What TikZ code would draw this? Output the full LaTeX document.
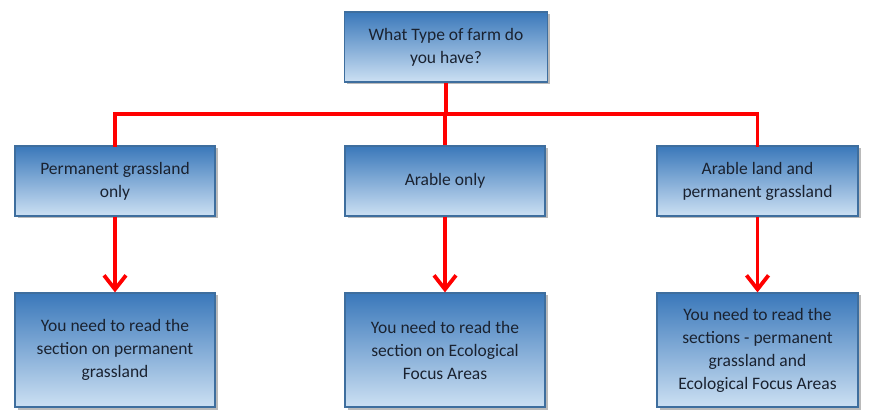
\documentclass[tikz,border=0pt]{standalone}
\usepackage{fontspec}
\setmainfont{Carlito}
\usetikzlibrary{arrows.meta,shadows}
\definecolor{boxtop}{HTML}{3A78BA}
\definecolor{boxbot}{HTML}{CCE0F3}
\definecolor{boxline}{HTML}{3E6E9E}
\definecolor{txt}{HTML}{1A2230}
\definecolor{arrred}{HTML}{FF0000}
\tikzset{
  farmbox/.style={rectangle, draw=boxline, line width=1.2pt, top color=boxtop, bottom color=boxbot,
    minimum width=200pt, minimum height=70pt, align=center, text=txt, inner sep=2pt,
    font=\fontsize{17.5}{23}\selectfont,
    drop shadow={shadow xshift=2.5pt, shadow yshift=-2.5pt, opacity=0.45, fill=black!60}},
  redline/.style={draw=arrred, line width=3.8pt},
  redarrow/.style={redline, -{Straight Barb[length=14pt,width=22pt,line width=3.8pt]}}
}
\begin{document}
\begin{tikzpicture}[x=1pt,y=1pt]
\useasboundingbox (0,0) rectangle (874,417);
\node[farmbox, minimum width=203pt] (top) at (446,370) {What Type of farm do\\you have?};
\node[farmbox] (m1) at (115,236) {Permanent grassland\\only};
\node[farmbox] (m2) at (445,236) {Arable only};
\node[farmbox, minimum width=201pt] (m3) at (757.5,236) {Arable land and\\permanent grassland};
\node[farmbox, minimum height=114pt] (b1) at (115,67) {You need to read the\\section on permanent\\grassland};
\node[farmbox, minimum height=114pt] (b2) at (445,67) {You need to read the\\section on Ecological\\Focus Areas};
\node[farmbox, minimum width=201pt, minimum height=114pt] (b3) at (757.5,67) {You need to read the\\sections - permanent\\grassland and\\Ecological Focus Areas};
\coordinate (bus) at (446,303);
\draw[redline] (top.south) -- (top.south |- bus);
\draw[redline, line cap=rect] (m1.north) -- (m1.north |- bus) -- (m3.north |- bus) -- (m3.north);
\draw[redline] (m2.north |- bus) -- (m2.north);
\draw[redarrow] (m1.south) -- (b1.north);
\draw[redarrow] (m2.south) -- (b2.north);
\draw[redarrow] (m3.south) -- (b3.north);
\end{tikzpicture}
\end{document}
